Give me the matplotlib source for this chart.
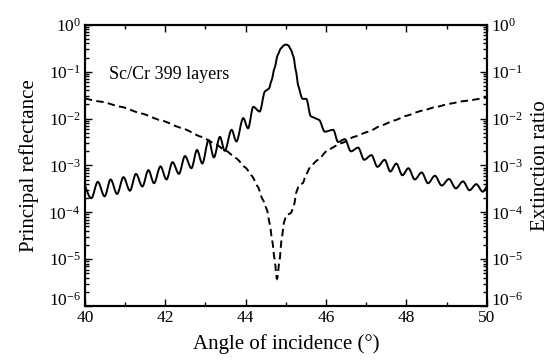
import matplotlib
matplotlib.use("Agg")
import matplotlib.pyplot as plt
import numpy as np
from matplotlib.path import Path
from matplotlib.patches import PathPatch
from matplotlib.ticker import LogLocator, NullFormatter, MultipleLocator

plt.rcParams['font.family'] = ['Liberation Serif', 'DejaVu Serif']
plt.rcParams['mathtext.fontset'] = 'stix'

# Principal reflectance (solid): angle, log10(reflectance) at extrema
refl_angle = [40.00, 40.16, 40.32, 40.49, 40.64, 40.80, 40.96, 41.12, 41.27, 41.43,
              41.58, 41.72, 41.88, 42.03, 42.18, 42.34, 42.49, 42.65, 42.79, 42.92,
              43.08, 43.21, 43.36, 43.48, 43.65, 43.77, 43.94, 44.06, 44.19, 44.35,
              44.48, 44.58, 44.64, 44.72, 44.80, 44.88, 44.95, 45.00, 45.06, 45.12,
              45.19, 45.25, 45.31, 45.42, 45.51, 45.62, 45.83, 45.97, 46.18, 46.30,
              46.47, 46.62, 46.80, 46.95, 47.13, 47.28, 47.46, 47.60, 47.75, 47.90,
              48.05, 48.21, 48.38, 48.54, 48.71, 48.88, 49.06, 49.23, 49.41, 49.57,
              49.74, 49.90, 50.00]
refl_log = [-3.42, -3.70, -3.35, -3.66, -3.30, -3.61, -3.25, -3.54, -3.18, -3.45,
            -3.10, -3.38, -3.02, -3.30, -2.93, -3.18, -2.80, -3.06, -2.67, -2.96,
            -2.46, -2.83, -2.39, -2.69, -2.24, -2.49, -1.99, -2.21, -1.75, -1.85,
            -1.42, -1.36, -1.20, -0.92, -0.64, -0.50, -0.44, -0.42, -0.44, -0.52,
            -0.68, -0.98, -1.30, -1.58, -1.58, -1.95, -2.03, -2.28, -2.24, -2.50,
            -2.44, -2.70, -2.62, -2.88, -2.78, -3.03, -2.88, -3.13, -2.96, -3.21,
            -3.06, -3.30, -3.15, -3.38, -3.22, -3.43, -3.29, -3.49, -3.34, -3.53,
            -3.40, -3.56, -3.44]

# Extinction ratio (dashed)
ext_angle = [40.00, 40.40, 40.90, 41.40, 41.90, 42.40, 42.90, 43.20, 43.50, 43.75,
             44.00, 44.15, 44.30, 44.42, 44.53, 44.60, 44.66, 44.72, 44.78, 44.84,
             44.90, 44.96, 45.02, 45.12, 45.20, 45.27, 45.33, 45.42, 45.50, 45.62,
             45.80, 46.05, 46.40, 46.70, 47.05, 47.40, 47.70, 48.00, 48.40, 48.75,
             49.10, 49.40, 50.00]
ext_log = [-1.57, -1.64, -1.75, -1.89, -2.04, -2.20, -2.39, -2.52, -2.68, -2.84,
           -3.05, -3.22, -3.45, -3.72, -3.95, -4.25, -4.60, -5.00, -5.42, -5.05,
           -4.55, -4.20, -4.06, -4.02, -3.85, -3.55, -3.42, -3.38, -3.20, -3.02,
           -2.88, -2.67, -2.52, -2.39, -2.28, -2.14, -2.04, -1.94, -1.83, -1.75,
           -1.68, -1.63, -1.55]

x_ticks = [40, 42, 44, 46, 48, 50]


def smooth_path(xs, ylog):
    """Monotone cubic Bezier path through the points (smooth line style),
    drawn in log-y data space."""
    x = np.asarray(xs, float)
    y = np.asarray(ylog, float)
    n = len(x)
    h = np.diff(x)
    s = np.diff(y) / h
    m = np.zeros(n)
    for i in range(1, n - 1):
        if s[i - 1] * s[i] <= 0:
            m[i] = 0.0
        else:
            p = (s[i - 1] * h[i] + s[i] * h[i - 1]) / (h[i - 1] + h[i])
            m[i] = np.sign(s[i]) * min(abs(s[i - 1]), abs(s[i]), 0.5 * abs(p))
    m[0] = (3 * s[0] - m[1]) / 2
    m[-1] = (3 * s[-1] - m[-2]) / 2
    verts = [(x[0], 10 ** y[0])]
    codes = [Path.MOVETO]
    for i in range(n - 1):
        d = h[i] / 3
        verts += [(x[i] + d, 10 ** (y[i] + m[i] * d)),
                  (x[i + 1] - d, 10 ** (y[i + 1] - m[i + 1] * d)),
                  (x[i + 1], 10 ** y[i + 1])]
        codes += [Path.CURVE4] * 3
    return Path(verts, codes)


fig = plt.figure(figsize=(5.55, 3.6), dpi=100)
ax = fig.add_axes([0.153, 0.15, 0.724, 0.781])
ax2 = ax.twinx()

for a in (ax, ax2):
    a.set_yscale('log')
    a.set_ylim(1e-6, 1e0)
    a.set_xlim(40, 50)

ax.add_patch(PathPatch(smooth_path(refl_angle, refl_log), facecolor='none',
                       edgecolor='black', lw=1.4, joinstyle='round'))
ax2.add_patch(PathPatch(smooth_path(ext_angle, ext_log), facecolor='none',
                        edgecolor='black', lw=1.4, linestyle=(0, (3.8, 2.2))))

for a in (ax, ax2):
    a.yaxis.set_major_locator(LogLocator(base=10, numticks=10))
    a.yaxis.set_minor_locator(LogLocator(base=10, subs=np.arange(2, 10), numticks=10))
    a.yaxis.set_minor_formatter(NullFormatter())
    a.tick_params(which='both', direction='in', labelsize=12.5, width=1.0, pad=3)
    a.tick_params(which='major', length=5)
    a.tick_params(which='minor', length=3)
    for sp in a.spines.values():
        sp.set_linewidth(1.5)

ax.set_xticks(x_ticks)
ax.xaxis.set_minor_locator(MultipleLocator(1))
ax.tick_params(axis='x', which='both', top=True, labelsize=12.5)
ax.tick_params(axis='y', which='both', right=False)
ax2.tick_params(axis='y', which='both', left=False)

ax.set_xlabel('Angle of incidence (°)', fontsize=15, labelpad=6)
ax.set_ylabel('Principal reflectance', fontsize=15, labelpad=7)
ax2.set_ylabel('Extinction ratio', fontsize=15, labelpad=6)

ax.text(40.6, 10 ** -1.05, 'Sc/Cr 399 layers', fontsize=13, va='center', ha='left')

# lift the lowest y tick labels so they sit on the bottom axis like the reference
fig.canvas.draw()
for a in (ax, ax2):
    for tick in a.yaxis.get_major_ticks():
        if np.isclose(tick.get_loc(), 1e-6):
            tick.label1.set_verticalalignment('baseline')
            tick.label2.set_verticalalignment('baseline')

fig.savefig('out.png', dpi=100)
